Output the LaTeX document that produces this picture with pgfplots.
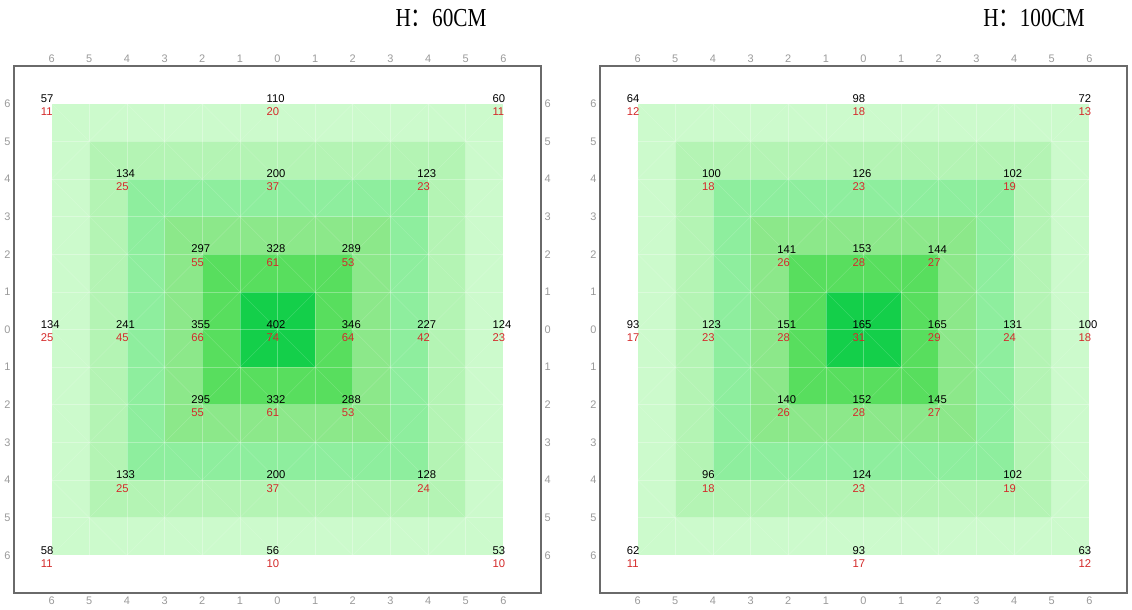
\documentclass[border=0pt]{standalone}
\usepackage{fontspec}
\setmainfont{Liberation Sans}
\newfontfamily\titlefont{Liberation Serif}
\newfontfamily\cjk{Noto Sans CJK SC}
\usepackage{graphicx}
\usepackage{pgfplots}
\usepackage{pgfplotstable}
\pgfplotsset{compat=1.18}

\definecolor{g6}{HTML}{CCFACC}
\definecolor{g5}{HTML}{B4F4B4}
\definecolor{g4}{HTML}{8EEE9E}
\definecolor{g3}{HTML}{8CE88A}
\definecolor{g2}{HTML}{58DE5E}
\definecolor{g1}{HTML}{14CF4A}
\definecolor{lblred}{HTML}{D42A2A}
\definecolor{tickgray}{HTML}{9A9A9A}
\definecolor{boxgray}{HTML}{6A6A6A}

% x y count percent
\pgfplotstableread{
x y top bot
-6 6 57 11
0 6 110 20
6 6 60 11
-4 4 134 25
0 4 200 37
4 4 123 23
-2 2 297 55
0 2 328 61
2 2 289 53
-6 0 134 25
-4 0 241 45
-2 0 355 66
0 0 402 74
2 0 346 64
4 0 227 42
6 0 124 23
-2 -2 295 55
0 -2 332 61
2 -2 288 53
-4 -4 133 25
0 -4 200 37
4 -4 128 24
-6 -6 58 11
0 -6 56 10
6 -6 53 10
}\lowtab

\pgfplotstableread{
x y top bot
-6 6 64 12
0 6 98 18
6 6 72 13
-4 4 100 18
0 4 126 23
4 4 102 19
-2 2 141 26
0 2 153 28
2 2 144 27
-6 0 93 17
-4 0 123 23
-2 0 151 28
0 0 165 31
2 0 165 29
4 0 131 24
6 0 100 18
-2 -2 140 26
0 -2 152 28
2 -2 145 27
-4 -4 96 18
0 -4 124 23
4 -4 102 19
-6 -6 62 11
0 -6 93 17
6 -6 63 12
}\hightab

\pgfplotsset{
  panel/.style={
    width=527bp, height=527bp, scale only axis,
    xmin=-7, xmax=7, ymin=-7, ymax=7,
    xtick={-6,...,6}, ytick={-6,...,6},
    xticklabels={6,5,4,3,2,1,0,1,2,3,4,5,6},
    yticklabels={6,5,4,3,2,1,0,1,2,3,4,5,6},
    major tick length=0pt,
    tick label style={font=\fontsize{11}{12}\selectfont, text=tickgray},
    /pgf/number format/assume math mode=true,
    axis line style={boxgray, line width=1.4bp},
  },
  labeltop/.style={only marks, mark=none, nodes near coords, point meta=explicit symbolic,
    nodes near coords style={anchor=south west, inner sep=0pt, xshift=-11bp, yshift=1bp,
      font=\fontsize{11.3}{12}\selectfont, text=black}},
  labelbot/.style={only marks, mark=none, nodes near coords, point meta=explicit symbolic,
    nodes near coords style={anchor=north west, inner sep=0pt, xshift=-11bp, yshift=-4bp,
      font=\fontsize{11.3}{12}\selectfont, text=lblred}},
}

\tikzset{
  gridw/.style={white, line width=0.6bp, opacity=0.3},
  diagw/.style={white, line width=0.5bp, opacity=0.16},
}

\newcommand{\rings}{%
  \addplot[fill=g6, draw=none] coordinates {(-6,-6) (6,-6) (6,6) (-6,6)} --cycle;
  \addplot[fill=g5, draw=none] coordinates {(-5,-5) (5,-5) (5,5) (-5,5)} --cycle;
  \addplot[fill=g4, draw=none] coordinates {(-4,-4) (4,-4) (4,4) (-4,4)} --cycle;
  \addplot[fill=g3, draw=none] coordinates {(-3,-3) (3,-3) (3,3) (-3,3)} --cycle;
  \addplot[fill=g2, draw=none] coordinates {(-2,-2) (2,-2) (2,2) (-2,2)} --cycle;
  \addplot[fill=g1, draw=none] coordinates {(-1,-1) (1,-1) (1,1) (-1,1)} --cycle;
  \begin{scope}
    \clip (axis cs:-6,-6) rectangle (axis cs:6,6);
    \pgfplotsinvokeforeach{-6,...,6}{
      \draw[gridw] (axis cs:##1,-6) -- (axis cs:##1,6);
      \draw[gridw] (axis cs:-6,##1) -- (axis cs:6,##1);
    }
    \pgfplotsinvokeforeach{-12,-10,...,12}{
      \draw[diagw] (axis cs:-7,{-7-(##1)}) -- (axis cs:7,{7-(##1)});
      \draw[diagw] (axis cs:-7,{7+(##1)}) -- (axis cs:7,{-7+(##1)});
    }
  \end{scope}
}

\begin{document}
\begin{tikzpicture}

% left panel, H 60
\begin{axis}[panel, at={(14bp,-66bp)}, anchor=north west,
  xticklabel pos=left, yticklabel pos=left]
  \rings
  \addplot[labeltop] table[x=x, y=y, meta=top] {\lowtab};
  \addplot[labelbot] table[x=x, y=y, meta=bot] {\lowtab};
\end{axis}
\begin{axis}[panel, at={(14bp,-66bp)}, anchor=north west,
  xticklabel pos=right, yticklabel pos=right, axis line style={draw=none}]
\end{axis}

% right panel, H 100
\begin{axis}[panel, at={(600bp,-66bp)}, anchor=north west,
  xticklabel pos=left, yticklabel pos=left]
  \rings
  \addplot[labeltop] table[x=x, y=y, meta=top] {\hightab};
  \addplot[labelbot] table[x=x, y=y, meta=bot] {\hightab};
\end{axis}
\begin{axis}[panel, at={(600bp,-66bp)}, anchor=north west,
  xticklabel pos=right, ytick=\empty, axis line style={draw=none}]
\end{axis}

\node[anchor=base, inner sep=0pt] at (441bp,-26bp)
  {\scalebox{0.82}[1]{\titlefont\fontsize{26}{26}\selectfont H{\cjk ：}60CM}};
\node[anchor=base, inner sep=0pt] at (1034bp,-26bp)
  {\scalebox{0.82}[1]{\titlefont\fontsize{26}{26}\selectfont H{\cjk ：}100CM}};

\pgfresetboundingbox
\useasboundingbox (0,0) rectangle (1132bp,-610bp);
\end{tikzpicture}
\end{document}
